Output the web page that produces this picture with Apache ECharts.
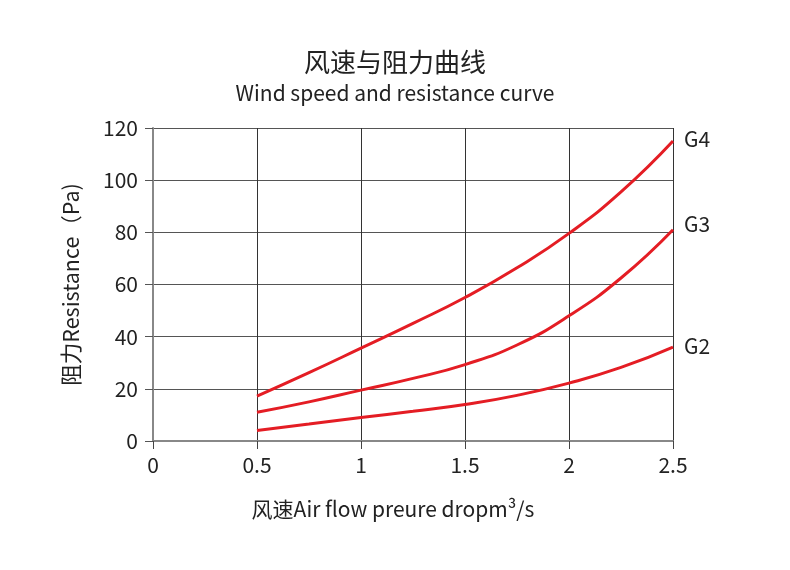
<!DOCTYPE html>
<html>
<head>
<meta charset="utf-8">
<script src="https://cdn.jsdelivr.net/npm/echarts@6/dist/echarts.min.js"></script>
<style>
  html, body { margin: 0; padding: 0; background: #fff; }
  #chart { width: 790px; height: 570px; }
</style>
</head>
<body>
<div id="chart"></div>
<script>
// 风量 (m³/s)
const airFlow = [0.5, 0.75, 1, 1.25, 1.5, 1.75, 2, 2.25, 2.5];
// 阻力 (Pa)
const g4 = [17.2, 26.2, 35.6, 45.1, 55, 66.4, 79.6, 95.5, 115];
const g3 = [11, 15, 19.5, 24, 29.3, 36.8, 48, 62.5, 81];
const g2 = [4, 6.5, 9, 11.4, 14, 17.5, 22.2, 28.2, 36];
const seriesNames = ['G4', 'G3', 'G2'];
const seriesValues = [g4, g3, g2];

const font = 'Noto Sans CJK SC, Noto Sans, sans-serif';
const red = '#e41d24';
// 右侧标签的上下微调
const labelShift = { G4: -2, G3: -6, G2: -1 };

const chart = echarts.init(document.getElementById('chart'));

const makeSeries = (name, values) => ({
  name: name,
  type: 'line',
  smooth: true,
  symbol: 'none',
  data: airFlow.map((x, i) => [x, values[i]]),
  lineStyle: { width: 3, color: red },
  endLabel: {
    show: true,
    formatter: '{a}',
    distance: 11,
    offset: [0, labelShift[name]],
    fontSize: 21,
    fontFamily: font,
    color: '#222'
  }
});

const option = {
  animation: false,
  title: [
    {
      text: '风速与阻力曲线',
      left: 'center',
      top: 44,
      textStyle: { fontFamily: font, fontSize: 26, fontWeight: 'normal', color: '#222' }
    },
    {
      text: 'Wind speed and resistance curve',
      left: 'center',
      top: 78,
      textStyle: { fontFamily: font, fontSize: 21, fontWeight: 'normal', color: '#222' }
    }
  ],
  grid: { left: 153, right: 117, top: 128, bottom: 129, containLabel: false },
  xAxis: {
    type: 'value',
    min: 0,
    max: 2.5,
    interval: 0.5,
    name: '风速Air flow preure dropm³/s',
    nameLocation: 'middle',
    nameGap: 58,
    nameTextStyle: { fontFamily: font, fontSize: 21, color: '#222', padding: [0, 40, 0, 0] },
    axisLine: { lineStyle: { color: '#888', width: 2 } },
    axisTick: { show: true, length: 8, lineStyle: { color: '#444' } },
    axisLabel: { fontFamily: font, fontSize: 21, color: '#222', margin: 14 },
    splitLine: { show: true, lineStyle: { color: '#333', width: 1 } }
  },
  yAxis: {
    type: 'value',
    min: 0,
    max: 120,
    interval: 20,
    name: '阻力Resistance（Pa)',
    nameLocation: 'middle',
    nameRotate: 90,
    nameGap: 71,
    nameTextStyle: { fontFamily: font, fontSize: 21.5, color: '#222' },
    axisLine: { show: true, lineStyle: { color: '#888', width: 2 } },
    axisTick: { show: true, length: 8, lineStyle: { color: '#555' } },
    axisLabel: { fontFamily: font, fontSize: 21, color: '#222', margin: 15 },
    splitLine: { show: true, lineStyle: { color: '#555', width: 1 } }
  },
  series: seriesNames.map((n, i) => makeSeries(n, seriesValues[i]))
};

chart.setOption(option);
</script>
</body>
</html>
